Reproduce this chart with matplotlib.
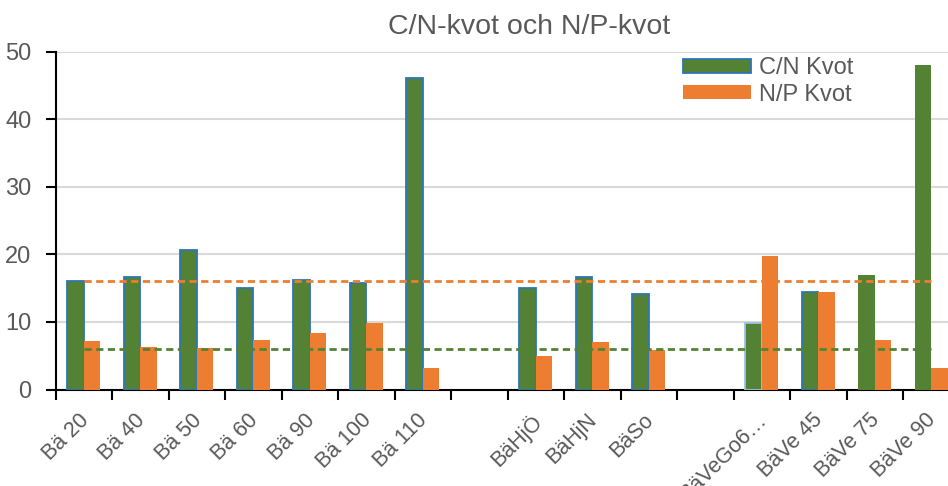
import matplotlib
matplotlib.use("Agg")
import matplotlib.pyplot as plt
import numpy as np

plt.rcParams['font.family'] = ['Liberation Sans', 'DejaVu Sans']

categories = ["Bä 20", "Bä 40", "Bä 50", "Bä 60", "Bä 90", "Bä 100", "Bä 110", "",
              "BäHjÖ", "BäHjN", "BäSo", "",
              "BäVeGo6…", "BäVe 45", "BäVe 75", "BäVe 90"]
cn_kvot = [16.0, 16.7, 20.6, 15.0, 16.2, 15.8, 46.1, np.nan,
           15.0, 16.6, 14.2, np.nan,
           9.9, 14.4, 16.9, 48.0]
np_kvot = [7.2, 6.3, 6.1, 7.4, 8.3, 9.9, 3.2, np.nan,
           5.0, 7.0, 5.8, np.nan,
           19.7, 14.4, 7.4, 3.2]
cn_ref = 6
np_ref = 16
cn_edges = ["#2E75B6"] * 12 + ["#9DC3E6", "#2E75B6", "none", "none"]

GREEN = "#548235"
ORANGE = "#ED7D31"
GRAY = "#595959"

fig = plt.figure(figsize=(9.48, 4.86), dpi=100)
ax = fig.add_axes([55.6 / 948, 96.5 / 486, 904 / 948, 337.8 / 486])

x = np.arange(len(categories))
w = 0.29
ax.bar(x - w / 2, cn_kvot, width=w, color=GREEN, edgecolor=cn_edges,
       linewidth=1.3, label="C/N Kvot", zorder=3)
ax.bar(x + w / 2, np_kvot, width=w, color=ORANGE, edgecolor="none",
       label="N/P Kvot", zorder=3)

ax.plot([x[0], x[-1]], [np_ref, np_ref], color=ORANGE, lw=2,
        linestyle=(0, (2.6, 1.6)), zorder=4)
ax.plot([x[0], x[-1]], [cn_ref, cn_ref], color=GREEN, lw=2,
        linestyle=(0, (2.6, 1.6)), zorder=4)

ax.set_xlim(-0.5, len(categories) - 0.5)
ax.set_ylim(0, 50)
ax.set_yticks(range(0, 51, 10))
ax.yaxis.grid(True, color="#D9D9D9", lw=1.5, zorder=0)
ax.set_axisbelow(True)

for s in ["top", "right"]:
    ax.spines[s].set_visible(False)
ax.spines["left"].set_color("black")
ax.spines["left"].set_linewidth(1.5)
ax.spines["bottom"].set_color("black")
ax.spines["bottom"].set_linewidth(1.5)

ax.set_xticks(np.arange(len(categories) + 1) - 0.5)
ax.set_xticklabels([])
ax.tick_params(axis="x", length=7, width=1.5, direction="out", color="black")
ax.tick_params(axis="y", length=7, width=1.5, labelsize=17, labelcolor=GRAY, pad=10.5)

for i, lab in enumerate(categories):
    if lab:
        ax.annotate(lab, xy=(x[i], 0), xycoords=("data", "axes fraction"),
                    xytext=(-4.2, -14.5), textcoords="offset points",
                    rotation=45, ha="right", va="top", rotation_mode="anchor",
                    fontsize=15.5, color=GRAY, annotation_clip=False)

fig.text(529 / 948, 1 - 34 / 486, "C/N-kvot och N/P-kvot", ha="center", va="baseline",
         fontsize=20.5, color=GRAY)

fig.legend(loc="upper left", bbox_to_anchor=(683 / 948, 1 - 57 / 486), frameon=False,
           fontsize=17, handlelength=2.9, handleheight=0.55, handletextpad=0.3,
           labelspacing=0.2, borderpad=0, borderaxespad=0, labelcolor=GRAY)

fig.savefig("out.png", dpi=100)
